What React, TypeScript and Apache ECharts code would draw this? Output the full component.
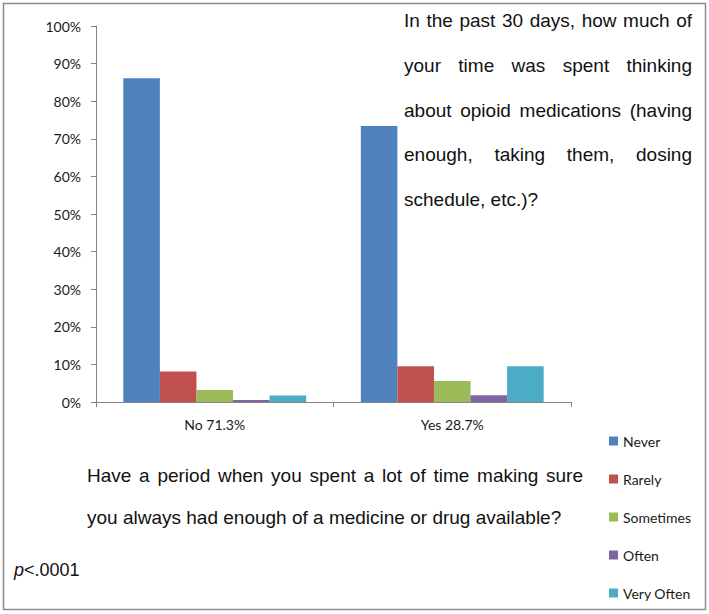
import React, { useEffect, useRef } from 'react';
import * as echarts from 'echarts';

const categories = ['No 71.3%', 'Yes 28.7%'];
const seriesNames = ['Never', 'Rarely', 'Sometimes', 'Often', 'Very Often'];
const seriesColors = ['#4F81BD', '#C0504D', '#9BBB59', '#8064A2', '#4BACC6'];
const neverValues = [86.1, 73.4];
const rarelyValues = [8.1, 9.5];
const sometimesValues = [3.2, 5.6];
const oftenValues = [0.5, 1.8];
const veryOftenValues = [1.7, 9.5];
const seriesValues = [neverValues, rarelyValues, sometimesValues, oftenValues, veryOftenValues];
const yMin = 0;
const yMax = 100;
const yInterval = 10;

const titleLines = [
  'In the past 30 days, how much of',
  'your time was spent thinking',
  'about opioid medications (having',
  'enough, taking them, dosing',
  'schedule, etc.)?',
];
const questionLines = [
  'Have a period when you spent a lot of time making sure',
  'you always had enough of a medicine or drug available?',
];

const TEXT_FONT = "'Liberation Sans', Arial, sans-serif";
const TEXT_SIZE = 19;
const LABEL_FONT = "Lato, 'Open Sans', sans-serif";

function measure(text: string): number {
  const c = document.createElement('canvas');
  const ctx = c.getContext('2d');
  if (!ctx) return text.length * TEXT_SIZE * 0.5;
  ctx.font = `${TEXT_SIZE}px ${TEXT_FONT}`;
  return ctx.measureText(text).width;
}

function lineElements(line: string, left: number, right: number, baseline: number, justify: boolean): any[] {
  const yMid = baseline - 0.3465 * TEXT_SIZE;
  const base = { fontSize: TEXT_SIZE, fontFamily: TEXT_FONT, fill: '#111', verticalAlign: 'middle', align: 'left' };
  if (!justify) {
    return [{ type: 'text', x: left, y: yMid, silent: true, style: { ...base, text: line } }];
  }
  const words = line.split(' ');
  const widths = words.map(measure);
  const total = widths.reduce((a, b) => a + b, 0);
  const gap = (right - left - total) / (words.length - 1);
  const els: any[] = [];
  let x = left;
  words.forEach((w, i) => {
    els.push({ type: 'text', x, y: yMid, silent: true, style: { ...base, text: w } });
    x += widths[i] + gap;
  });
  return els;
}

export default function App() {
  const ref = useRef<HTMLDivElement>(null);
  useEffect(() => {
    if (!ref.current) return;
    const chart = echarts.init(ref.current, undefined, { renderer: 'svg' });
    const graphics: any[] = [];
    graphics.push({
      type: 'rect',
      shape: { x: 3.5, y: 3.5, width: 702, height: 606 },
      silent: true,
      style: { fill: 'none', stroke: '#8c8c8c', lineWidth: 1.5 },
    });
    titleLines.forEach((l, i) => {
      graphics.push(...lineElements(l, 404, 692, 27 + 44.8 * i, i < titleLines.length - 1));
    });
    questionLines.forEach((l, i) => {
      graphics.push(...lineElements(l, 87, 583, 482 + 42 * i, i < questionLines.length - 1));
    });
    graphics.push({
      type: 'text',
      x: 14,
      y: 576 - 0.3465 * 18,
      silent: true,
      style: {
        text: '{i|p}{n|<.0001}',
        verticalAlign: 'middle',
        align: 'left',
        rich: {
          i: { fontStyle: 'italic', fontSize: 18, fontFamily: TEXT_FONT, fill: '#111' },
          n: { fontSize: 18, fontFamily: TEXT_FONT, fill: '#111' },
        },
      },
    });

    chart.setOption({
      animation: false,
      grid: { left: 96, right: 138, top: 26, bottom: 212, containLabel: false },
      legend: {
        orient: 'vertical',
        left: 604,
        top: 428,
        icon: 'rect',
        itemWidth: 9,
        itemHeight: 9,
        itemGap: 22,
        data: seriesNames,
        textStyle: { fontFamily: LABEL_FONT, fontSize: 14, color: '#1a1a1a', lineHeight: 16 },
        selectedMode: false,
      },
      xAxis: {
        type: 'category',
        data: categories,
        axisLine: { show: true, lineStyle: { color: '#868686', width: 1 } },
        axisTick: { show: true, length: 5, interval: 0, alignWithLabel: false, lineStyle: { color: '#868686' } },
        axisLabel: { fontFamily: LABEL_FONT, fontSize: 14, color: '#1a1a1a', margin: 15 },
        splitLine: { show: false },
      },
      yAxis: {
        type: 'value',
        min: yMin,
        max: yMax,
        interval: yInterval,
        axisLine: { show: true, lineStyle: { color: '#868686', width: 1 } },
        axisTick: { show: true, length: 5, lineStyle: { color: '#868686' } },
        axisLabel: { fontFamily: LABEL_FONT, fontSize: 14, color: '#1a1a1a', margin: 15, formatter: '{value}%' },
        splitLine: { show: false },
      },
      series: seriesNames.map((name, i) => ({
        name,
        type: 'bar',
        data: seriesValues[i],
        barGap: '0%',
        barCategoryGap: '23%',
        itemStyle: { color: seriesColors[i] },
        silent: true,
      })),
      graphic: graphics,
    });
    return () => chart.dispose();
  }, []);
  return <div ref={ref} style={{ position: 'absolute', left: 0, top: 0, width: 709, height: 614, background: '#fff' }} />;
}
